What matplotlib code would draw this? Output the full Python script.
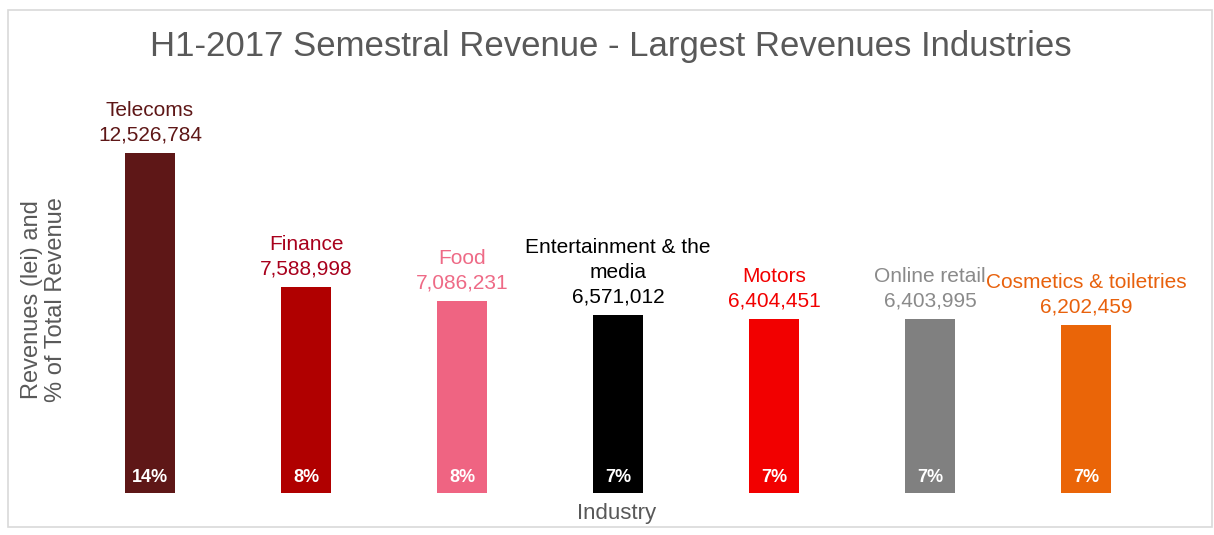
import matplotlib
matplotlib.use("Agg")
import matplotlib.pyplot as plt
from matplotlib.patches import Rectangle

industries = ["Telecoms", "Finance", "Food", "Entertainment & the\nmedia",
              "Motors", "Online retail", "Cosmetics & toiletries"]
revenues = [12526784, 7588998, 7086231, 6571012, 6404451, 6403995, 6202459]
shares = ["14%", "8%", "8%", "7%", "7%", "7%", "7%"]
bar_colors = ["#5e1717", "#b00000", "#ef6482", "#000000", "#f20000", "#808080", "#ea6508"]
label_colors = ["#5e1717", "#a8001c", "#ee6a86", "#000000", "#f20000", "#8a8a8a", "#e8610c"]

plt.rcParams["font.family"] = ["Liberation Sans", "DejaVu Sans"]

fig = plt.figure(figsize=(12.14, 5.35), dpi=100)
fig.patch.set_facecolor("white")
# light frame round the whole chart
fig.add_artist(Rectangle((8 / 1214, 8 / 535), 1204 / 1214, 517 / 535,
                         transform=fig.transFigure, fill=False,
                         ec="#d9d9d9", lw=1.2))

ax = fig.add_axes([80 / 1214, 42 / 535, 1070 / 1214, 433 / 535])
x = list(range(len(industries)))
ax.bar(x, revenues, width=0.32, color=bar_colors)
ax.set_xlim(-0.449, 6.41)
ax.set_ylim(0, 15953000)
ax.axis("off")

for i, (name, val, pct, c) in enumerate(zip(industries, revenues, shares, label_colors)):
    ax.annotate(f"{name}\n{val:,}", xy=(i, val), xytext=(0, 6),
                textcoords="offset points", ha="center", va="bottom",
                fontsize=15, color=c, linespacing=1.38)
    ax.annotate(pct, xy=(i, 0), xytext=(0, 5), textcoords="offset points",
                ha="center", va="bottom", fontsize=13, color="white",
                fontweight="bold")

fig.text(611 / 1214, 1 - 47 / 535,
         "H1-2017 Semestral Revenue - Largest Revenues Industries",
         ha="center", va="center", fontsize=25, color="#595959")
fig.text(617 / 1214, 1 - 514 / 535, "Industry", ha="center", va="center",
         fontsize=16, color="#595959")
fig.text(44 / 1214, 1 - 300 / 535, "Revenues (lei) and\n% of Total Revenue",
         ha="center", va="center", rotation=90, fontsize=17,
         color="#595959", linespacing=1.15)

fig.savefig("out.png", dpi=100)
